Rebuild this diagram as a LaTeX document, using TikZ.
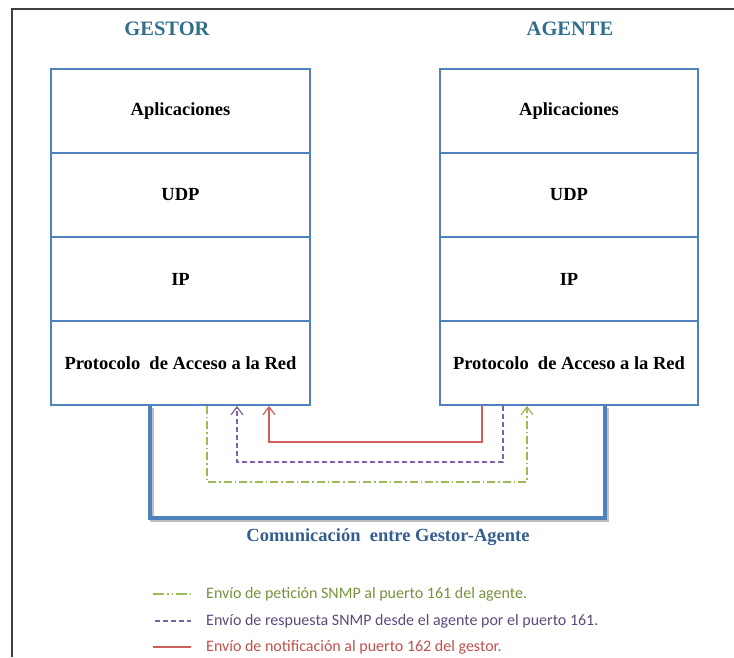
\documentclass[tikz,border=0pt]{standalone}
\usepackage{fontspec}
\setmainfont{Liberation Serif}
\newfontfamily\legfont{Carlito}
\usetikzlibrary{arrows.meta}
\definecolor{boxblue}{RGB}{79,129,189}
\definecolor{titleteal}{RGB}{49,110,140}
\definecolor{comblue}{RGB}{54,95,145}
\definecolor{lgreen}{RGB}{155,187,89}
\definecolor{tgreen}{RGB}{118,146,60}
\definecolor{lpurple}{RGB}{128,100,162}
\definecolor{tpurple}{RGB}{95,73,122}
\definecolor{lred}{RGB}{205,95,92}
\definecolor{tred}{RGB}{192,80,77}
\tikzset{
  layer/.style={draw=boxblue, line width=1.8pt, fill=white, minimum height=84pt, inner sep=0pt,
     font=\bfseries\fontsize{18.5}{20}\selectfont},
  title/.style={font=\bfseries\fontsize{20.5}{23}\selectfont, text=titleteal},
  tip/.style={-{Straight Barb[length=8pt,width=12pt,line width=1.2pt]}},
  greenline/.style={draw=lgreen, line width=1.2pt, dash pattern=on 8pt off 3pt on 1.5pt off 3pt},
  greenleg/.style={draw=lgreen, line width=1.2pt, dash pattern=on 11pt off 3pt on 1.5pt off 3pt on 1.5pt off 3pt},
  purpleline/.style={draw=lpurple, line width=1.2pt, dash pattern=on 5pt off 3pt},
  redline/.style={draw=lred, line width=1.2pt},
  legtext/.style={anchor=west, font=\legfont\fontsize{16}{18}\selectfont, inner sep=0pt}
}
\begin{document}
\begin{tikzpicture}[x=1pt,y=-1pt]
\useasboundingbox (0,0) rectangle (734,657);
% frame
\coordinate (f1) at (12,657);
\coordinate (f2) at (12,9);
\coordinate (f3) at (734,9);
\draw[black!75, line width=2pt] (f1) -- (f2) -- (f3);
% titles
\node[title] (tg) at (167,29) {GESTOR};
\node[title] (ta) at (570,29) {AGENTE};
% gestor stack
\node[layer, minimum width=259pt] (gA) at (180.5,111) {Aplicaciones};
\node[layer, minimum width=259pt] (gU) at (180.5,195) {UDP};
\node[layer, minimum width=259pt] (gI) at (180.5,279.5) {IP};
\node[layer, minimum width=259pt] (gP) at (180.5,363) {Protocolo\ \ de Acceso a la Red};
% agente stack
\node[layer, minimum width=258pt] (aA) at (569,111) {Aplicaciones};
\node[layer, minimum width=258pt] (aU) at (569,195) {UDP};
\node[layer, minimum width=258pt] (aI) at (569,279.5) {IP};
\node[layer, minimum width=258pt] (aP) at (569,363) {Protocolo\ \ de Acceso a la Red};
% blue communication line
\coordinate (b1) at (150,518);
\coordinate (b2) at (605,518);
\draw[black!25, line width=4pt] ([shift={(2,2)}]gP.south -| b1) |- ([shift={(2,2)}]b2) -- ([shift={(2,2)}]aP.south -| b2);
\draw[boxblue, line width=4pt, line join=miter] (gP.south -| b1) |- (b2) -- (aP.south -| b2);
\node[font=\bfseries\fontsize{18.5}{20}\selectfont, text=comblue] (com) at (388,537) {Comunicaci\'on\ \ entre Gestor-Agente};
% green request
\coordinate (g1) at (207,482);
\coordinate (g2) at (527,482);
\draw[greenline, tip] (gP.south -| g1) |- (g2) -- (aP.south -| g2);
% purple response
\coordinate (p1) at (237,462);
\coordinate (p2) at (503,462);
\draw[purpleline, tip] (aP.south -| p2) |- (p1) -- (gP.south -| p1);
% red notification
\coordinate (r1) at (269,442);
\coordinate (r2) at (482,442);
\draw[redline, tip] (aP.south -| r2) |- (r1) -- (gP.south -| r1);
% legend
\coordinate (l1a) at (153,594); \coordinate (l1b) at (191,594);
\coordinate (l2a) at (155,621); \coordinate (l2b) at (191,621);
\coordinate (l3a) at (153,647); \coordinate (l3b) at (191,647);
\draw[greenleg] (l1a) -- (l1b);
\draw[purpleline] (l2a) -- (l2b);
\draw[redline] (l3a) -- (l3b);
\node[legtext, text=tgreen] (t1) at (206,594) {Env\'io de petici\'on SNMP al puerto 161 del agente.};
\node[legtext, text=tpurple] (t2) at (206,621) {Env\'io de respuesta SNMP desde el agente por el puerto 161.};
\node[legtext, text=tred] (t3) at (206,647) {Env\'io de notificaci\'on al puerto 162 del gestor.};
\end{tikzpicture}
\end{document}
